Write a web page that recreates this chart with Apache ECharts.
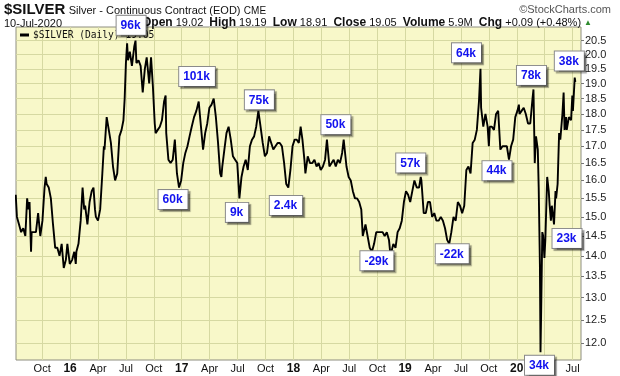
<!DOCTYPE html>
<html>
<head>
<meta charset="utf-8">
<script src="https://cdn.jsdelivr.net/npm/echarts@6/dist/echarts.min.js"></script>
<style>
html, body { margin: 0; padding: 0; background: #fff; }
#chart { width: 620px; height: 376px; }
</style>
</head>
<body>
<div id="chart"></div>
<script>
// closes, [MM-DD, price]
const silver2015 = [
  ['07-06',15.6],['07-10',15.0],['07-17',14.8],['07-24',14.6],['07-31',14.7],
  ['08-07',14.5],['08-13',15.5],['08-17',15.2],['08-21',15.4],['08-26',14.1],['08-28',14.6],
  ['09-04',14.6],['09-11',14.6],['09-18',15.1],['09-25',14.5],
  ['10-02',14.9],['10-09',15.8],['10-13',16.1],['10-16',15.9],['10-23',15.8],['10-30',15.5],
  ['11-06',14.8],['11-13',14.2],['11-20',14.2],['11-27',14.0],
  ['12-04',14.3],['12-11',13.7],['12-18',13.9],['12-23',14.3],['12-31',13.8]
];
const silver2016 = [
  ['01-08',13.9],['01-15',14.1],['01-20',13.8],['01-22',14.1],['01-29',14.3],
  ['02-05',14.9],['02-11',15.8],['02-16',15.2],['02-19',15.3],['02-26',14.8],
  ['03-04',15.4],['03-11',15.7],['03-17',15.8],['03-22',15.2],['03-25',15.0],
  ['04-01',14.9],['04-08',15.2],['04-15',16.2],['04-20',17.0],['04-22',16.9],['04-29',17.9],
  ['05-06',17.5],['05-13',17.1],['05-20',16.4],['05-27',16.0],
  ['06-03',16.2],['06-10',17.3],['06-17',17.5],['06-23',17.8],['06-27',18.5],
  ['07-01',19.7],['07-05',20.4],['07-08',19.8],['07-14',20.1],['07-21',19.6],['07-29',20.3],
  ['08-02',20.5],['08-05',19.7],['08-12',19.8],['08-19',19.6],['08-26',18.7],
  ['09-02',19.5],['09-08',19.9],['09-16',19.0],['09-22',19.9],['09-28',18.9],
  ['10-04',17.7],['10-07',17.4],['10-14',17.5],['10-21',17.6],['10-28',17.8],
  ['11-04',18.4],['11-09',18.6],['11-11',17.4],['11-18',16.6],['11-25',16.5],
  ['12-02',16.6],['12-09',17.2],['12-16',16.2],['12-23',15.8],['12-30',16.0]
];
const silver2017 = [
  ['01-06',16.5],['01-13',16.8],['01-20',17.0],['01-27',17.3],
  ['02-03',17.6],['02-10',17.9],['02-17',18.1],['02-24',18.4],
  ['03-03',17.6],['03-10',16.9],['03-17',17.4],['03-24',17.7],['03-31',18.2],
  ['04-07',18.3],['04-14',18.5],['04-21',17.9],['04-28',17.1],
  ['05-05',16.2],['05-09',16.1],['05-12',16.4],['05-19',16.9],['05-26',17.4],
  ['06-02',17.6],['06-09',17.2],['06-16',16.7],['06-23',16.6],['06-30',16.5],
  ['07-07',15.5],['07-14',16.1],['07-21',16.4],['07-28',16.6],
  ['08-04',16.3],['08-11',17.0],['08-18',17.2],['08-25',17.3],
  ['09-01',17.6],['09-08',18.1],['09-15',17.6],['09-22',17.1],['09-29',16.7],
  ['10-06',16.8],['10-13',17.3],['10-20',17.1],['10-27',16.9],
  ['11-03',17.0],['11-10',17.1],['11-17',17.1],['11-24',17.0],
  ['12-01',16.5],['12-08',15.9],['12-15',15.8],['12-22',16.3],['12-29',17.0]
];
const silver2018 = [
  ['01-05',17.2],['01-12',17.2],['01-19',17.1],['01-25',17.6],['01-31',17.2],
  ['02-06',16.6],['02-09',16.2],['02-16',16.7],['02-23',16.5],
  ['03-02',16.5],['03-09',16.6],['03-16',16.4],['03-23',16.5],['03-30',16.3],
  ['04-06',16.4],['04-13',16.6],['04-19',17.2],['04-27',16.4],
  ['05-04',16.5],['05-11',16.6],['05-18',16.4],['05-25',16.6],
  ['06-01',16.5],['06-08',16.8],['06-13',17.2],['06-22',16.4],['06-29',16.1],
  ['07-06',16.0],['07-13',15.7],['07-20',15.5],['07-27',15.5],
  ['08-03',15.4],['08-10',15.2],['08-15',14.5],['08-24',14.8],['08-31',14.5],
  ['09-07',14.2],['09-14',14.1],['09-21',14.3],['09-28',14.6],
  ['10-05',14.6],['10-12',14.6],['10-19',14.6],['10-26',14.5],
  ['11-02',14.6],['11-09',14.4],['11-14',14.0],['11-23',14.3],['11-30',14.2],
  ['12-07',14.6],['12-14',14.7],['12-21',14.9],['12-28',15.4]
];
const silver2019 = [
  ['01-04',15.7],['01-11',15.6],['01-18',15.4],['01-25',15.7],
  ['02-01',16.0],['02-08',15.8],['02-15',15.8],['02-20',16.1],['02-22',16.0],
  ['03-01',15.1],['03-08',15.1],['03-15',15.4],['03-22',15.4],['03-29',15.0],
  ['04-05',15.1],['04-12',14.9],['04-19',14.9],['04-26',15.0],
  ['05-03',14.9],['05-10',14.7],['05-17',14.4],['05-24',14.3],['05-31',14.6],
  ['06-07',15.0],['06-14',14.9],['06-21',15.4],['06-28',15.3],
  ['07-05',15.1],['07-12',15.3],['07-19',16.3],['07-26',16.4],
  ['08-02',16.2],['08-09',17.1],['08-16',17.2],['08-23',17.5],['08-30',18.4],
  ['09-04',19.5],['09-06',18.2],['09-13',17.6],['09-20',18.0],['09-27',17.6],
  ['10-01',17.0],['10-04',17.6],['10-11',17.6],['10-18',17.5],['10-25',18.0],
  ['11-01',18.1],['11-08',16.9],['11-15',17.0],['11-22',17.0],['11-29',17.0],
  ['12-06',16.6],['12-13',17.0],['12-20',17.2],['12-27',17.9]
];
const silver2020 = [
  ['01-03',18.1],['01-08',18.3],['01-10',18.0],['01-17',18.1],['01-24',18.2],['01-31',18.0],
  ['02-07',17.7],['02-14',17.7],['02-21',18.5],['02-24',18.8],['02-28',16.5],
  ['03-03',17.3],['03-09',16.9],['03-12',15.8],['03-16',13.8],['03-18',11.8],['03-20',12.6],
  ['03-24',14.6],['03-27',14.5],['03-31',13.95],
  ['04-03',14.4],['04-09',16.1],['04-14',15.7],['04-17',15.3],['04-21',14.9],['04-24',15.3],
  ['05-01',14.8],['05-06',15.7],['05-08',15.5],['05-13',15.9],['05-18',17.4],['05-22',17.2],['05-29',18.0],
  ['06-02',18.7],['06-05',17.5],['06-10',17.9],['06-12',17.5],['06-19',17.9],['06-26',17.8],['06-30',18.6],
  ['07-02',18.1],['07-08',19.2],['07-10',19.05]
];
const years = { 2015: silver2015, 2016: silver2016, 2017: silver2017, 2018: silver2018, 2019: silver2019, 2020: silver2020 };

// price axis ticks and quarter ticks (months counted from Jan 2015)
const yTicks = [12.0, 12.5, 13.0, 13.5, 14.0, 14.5, 15.0, 15.5, 16.0, 16.5, 17.0, 17.5, 18.0, 18.5, 19.0, 19.5, 20.0, 20.5];
const xTicks = [9, 12, 15, 18, 21, 24, 27, 30, 33, 36, 39, 42, 45, 48, 51, 54, 57, 60, 63, 66];
const monthNames = { 0: 'Jan', 3: 'Apr', 6: 'Jul', 9: 'Oct' };

// annotation boxes: anchor date and text
const noteDates = ['2016-07-05','2017-02-24','2017-09-08','2016-12-23','2017-07-07','2017-12-15','2018-04-19','2019-02-20',
                   '2018-09-14','2019-05-24','2019-09-04','2019-12-06','2020-02-24','2020-03-18','2020-05-01','2020-07-10'];
const noteTexts = ['96k','101k','75k','60k','9k','2.4k','50k','57k','-29k','-22k','64k','44k','78k','34k','23k','38k'];

// layout: pixel offset of each box from its anchor point
const noteOffsets = [[-10,-27],[-19,-34],[-13,-20],[-20,3],[-13,5],[-18,9],[-5,-24],[-24,-23],
                     [-11,0],[-13,1],[-28,-25],[-26,2],[-16,-23],[-15,4],[-1,5],[-20,-30]];

function monthPos(y, md) {
  const [m, d] = md.split('-').map(Number);
  const dim = new Date(y, m, 0).getDate();
  return (y - 2015) * 12 + (m - 1) + (d - 1) / dim;
}

const seriesData = [];
const priceByDate = {};
Object.keys(years).forEach(y => {
  years[y].forEach(([md, p]) => {
    seriesData.push([monthPos(+y, md), p]);
    priceByDate[y + '-' + md] = p;
  });
});
const lastClose = seriesData[seriesData.length - 1][1];

const notePoints = noteDates.map((d, i) => {
  const y = +d.slice(0, 4), md = d.slice(5);
  return {
    name: noteTexts[i],
    coord: [monthPos(y, md), priceByDate[d]],
    label: { position: noteOffsets[i] }
  };
});

const FONT = '"Liberation Sans", Arial, sans-serif';
const chart = echarts.init(document.getElementById('chart'));

chart.setOption({
  animation: false,
  backgroundColor: '#fff',
  textStyle: { fontFamily: FONT },
  grid: {
    left: 16, right: 39, top: 27, bottom: 16,
    show: true, backgroundColor: '#f8f8c9', borderColor: '#8e8e80', borderWidth: 1
  },
  legend: {
    left: 20, top: 30, padding: 0,
    icon: 'rect', itemWidth: 9, itemHeight: 3,
    data: ['$SILVER (Daily)'],
    formatter: name => name + ' ' + lastClose.toFixed(2),
    textStyle: { fontFamily: '"DejaVu Sans Mono", monospace', fontSize: 9.6, color: '#111', padding: [0, 0, 0, -1] }
  },
  xAxis: {
    type: 'value',
    min: 6.19, max: 66.9,
    axisLine: { show: false },
    axisTick: { show: false, customValues: xTicks },
    splitLine: { show: true, customValues: xTicks, lineStyle: { color: '#d6d9a2', width: 1 } },
    axisLabel: {
      customValues: xTicks,
      margin: 3, fontSize: 11, color: '#111', fontFamily: FONT,
      formatter: v => {
        const m = Math.round(v) % 12;
        if (m === 0) return '{yr|' + String(2015 + Math.round(v) / 12).slice(2) + '}';
        return monthNames[m];
      },
      rich: { yr: { fontWeight: 'bold', fontSize: 12, color: '#111', fontFamily: FONT } }
    }
  },
  yAxis: {
    type: 'log',
    position: 'right',
    min: 11.64, max: 21.0,
    axisLine: { show: false },
    axisTick: { show: true, length: 3, customValues: yTicks, lineStyle: { color: '#777' } },
    splitLine: { show: true, customValues: yTicks, lineStyle: { color: '#d6d9a2', width: 1 } },
    axisLabel: {
      customValues: yTicks,
      margin: 4, fontSize: 11, color: '#222', fontFamily: FONT,
      formatter: v => v.toFixed(1)
    }
  },
  series: [{
    name: '$SILVER (Daily)',
    type: 'line',
    data: seriesData,
    showSymbol: false,
    symbol: 'none',
    itemStyle: { color: '#000' },
    lineStyle: { color: '#000', width: 1.9 },
    markPoint: {
      symbol: 'circle',
      symbolSize: 1,
      itemStyle: { color: 'rgba(0,0,0,0)' },
      label: {
        show: true,
        formatter: '{b}',
        align: 'left', verticalAlign: 'top',
        color: '#1212ee', fontWeight: 'bold', fontSize: 12, fontFamily: FONT, lineHeight: 14,
        backgroundColor: '#fff', borderColor: '#8a8a8a', borderWidth: 1,
        padding: [3, 5, 2, 4],
        shadowColor: 'rgba(0,0,0,0.35)', shadowBlur: 1, shadowOffsetX: 2, shadowOffsetY: 2
      },
      data: notePoints
    }
  }],
  graphic: [
    {
      type: 'text', left: 4, top: 2,
      style: {
        text: '{a|$SILVER} {b|Silver - Continuous Contract (EOD)} {c|CME}',
        rich: {
          a: { fontFamily: FONT, fontWeight: 'bold', fontSize: 15, fill: '#111' },
          b: { fontFamily: FONT, fontSize: 11, fill: '#111', padding: [3, 0, 0, 0] },
          c: { fontFamily: FONT, fontSize: 10, fill: '#111', padding: [3, 0, 0, 0] }
        }
      }
    },
    {
      type: 'text', right: 9, top: 4,
      style: { text: '\u00a9StockCharts.com', fontFamily: FONT, fontSize: 11, fill: '#555' }
    },
    {
      type: 'text', left: 4, top: 18,
      style: { text: '10-Jul-2020', fontFamily: FONT, fontSize: 11, fill: '#111' }
    },
    {
      type: 'text', left: 142, top: 17,
      style: {
        text: '{h|Open} 19.02  {h|High} 19.19  {h|Low} 18.91  {h|Close} 19.05  {h|Volume} 5.9M  {h|Chg} +0.09 (+0.48%) {t|\u25b2}',
        fontFamily: FONT, fontSize: 11, fill: '#111',
        rich: {
          h: { fontFamily: FONT, fontWeight: 'bold', fontSize: 12, fill: '#111' },
          t: { fontFamily: FONT, fontSize: 8, fill: '#2e8b2e' }
        }
      }
    }
  ]
});
</script>
</body>
</html>
